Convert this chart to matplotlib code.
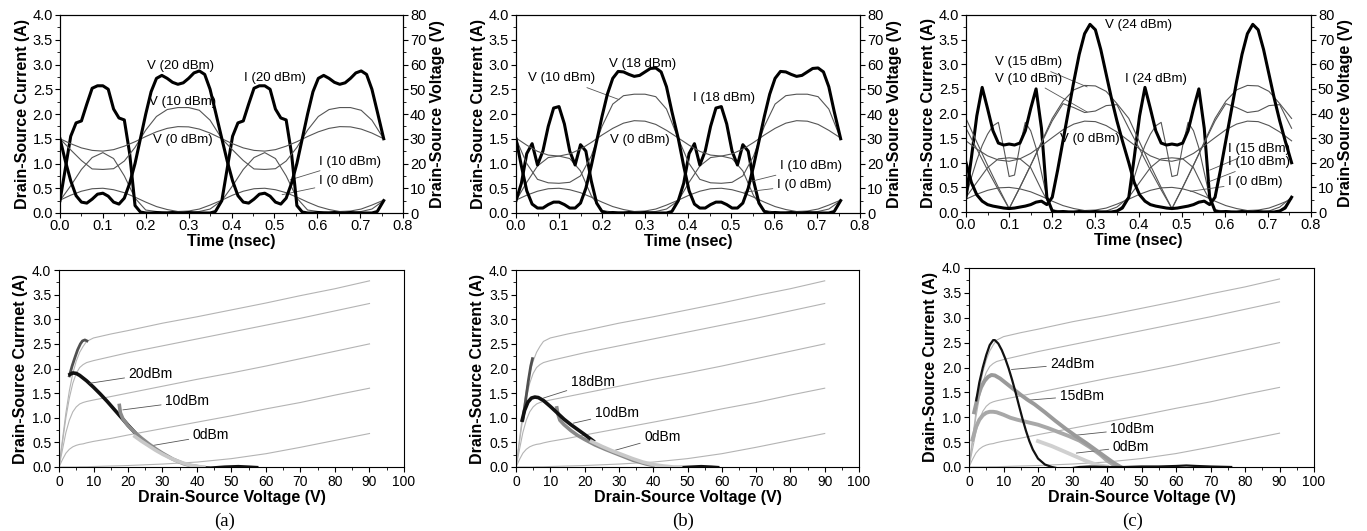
import matplotlib
matplotlib.use('Agg')
import matplotlib.pyplot as plt
from matplotlib.ticker import MultipleLocator, FormatStrFormatter

plt.rcParams['font.family'] = ['Liberation Sans', 'DejaVu Sans']

# ---------------- time grids (ns) ----------------
t_fine = [0, 0.0125, 0.025, 0.0375, 0.05, 0.0625, 0.075, 0.0875, 0.1, 0.1125, 0.125, 0.1375, 0.15, 0.1625,
          0.175, 0.1875, 0.2, 0.2125, 0.225, 0.2375, 0.25, 0.2625, 0.275, 0.2875, 0.3, 0.3125, 0.325, 0.3375,
          0.35, 0.3625,
          0.3775, 0.39, 0.4025, 0.415, 0.4275, 0.44, 0.4525, 0.465, 0.4775, 0.49, 0.5025, 0.515, 0.5275, 0.54,
          0.5525, 0.565, 0.5775, 0.59, 0.6025, 0.615, 0.6275, 0.64, 0.6525, 0.665, 0.6775, 0.69, 0.7025, 0.715,
          0.7275, 0.74, 0.755]
t_coarse = [0, 0.025, 0.05, 0.075, 0.1, 0.125, 0.15, 0.175, 0.2, 0.225, 0.25, 0.275, 0.3, 0.325, 0.35,
            0.3775, 0.4025, 0.4275, 0.4525, 0.4775, 0.5025, 0.5275, 0.5525, 0.5775, 0.6025, 0.6275, 0.6525,
            0.6775, 0.7025, 0.7275, 0.755]

# ---------------- panel (a) waveforms ----------------
a_i20 = [0.25, 0.9, 1.55, 1.82, 1.86, 2.2, 2.52, 2.57, 2.57, 2.5, 2.1, 1.92, 1.88, 1.2, 0.15, 0.02, 0.0, 0.0,
         0.01, 0.0, 0.0, 0.01, 0.0, 0.0, 0.01, 0.0, 0.0, 0.0, 0.0, 0.03,
         0.25, 0.9, 1.55, 1.82, 1.86, 2.2, 2.52, 2.57, 2.57, 2.5, 2.1, 1.92, 1.88, 1.2, 0.15, 0.02, 0.0, 0.0,
         0.01, 0.0, 0.0, 0.01, 0.0, 0.0, 0.01, 0.0, 0.0, 0.0, 0.0, 0.03, 0.25]
a_v20 = [30, 21, 13, 7, 4.4, 4, 5.6, 7.6, 8, 6.8, 4.4, 3.6, 6, 12, 20, 30, 40, 49, 54.4, 55.6, 54.4, 52.8,
         52, 52.6, 54.4, 56.6, 57.4, 56, 50, 41,
         30, 21, 13, 7, 4.4, 4, 5.6, 7.6, 8, 6.8, 4.4, 3.6, 6, 12, 20, 30, 40, 49, 54.4, 55.6, 54.4, 52.8,
         52, 52.6, 54.4, 56.6, 57.4, 56, 50, 41, 30]
a_v10 = [30, 25.5, 21.2, 17.8, 17.6, 17.9, 21.0, 26.5, 33.5, 39.0, 41.8, 42.6, 42.6, 41.5, 37.5,
         30, 25.5, 21.2, 17.8, 17.6, 17.9, 21.0, 26.5, 33.5, 39.0, 41.8, 42.6, 42.6, 41.5, 37.5, 30]
a_v0 = [30.0, 28.0, 26.3, 25.3, 25.0, 25.6, 27.0, 28.8, 30.9, 32.8, 34.2, 34.9, 34.8, 33.9, 32.3,
        30.0, 28.0, 26.3, 25.3, 25.0, 25.6, 27.0, 28.8, 30.9, 32.8, 34.2, 34.9, 34.8, 33.9, 32.3, 30.0]
a_i10 = [0.25, 0.55, 0.88, 1.12, 1.22, 1.1, 0.75, 0.3, 0.06, 0.03, 0.02, 0.02, 0.02, 0.03, 0.08,
         0.25, 0.55, 0.88, 1.12, 1.22, 1.1, 0.75, 0.3, 0.06, 0.03, 0.02, 0.02, 0.02, 0.03, 0.08, 0.25]
a_i0 = [0.26, 0.36, 0.44, 0.49, 0.5, 0.47, 0.41, 0.32, 0.22, 0.13, 0.07, 0.03, 0.04, 0.08, 0.16,
        0.26, 0.36, 0.44, 0.49, 0.5, 0.47, 0.41, 0.32, 0.22, 0.13, 0.07, 0.03, 0.04, 0.08, 0.16, 0.26]

# ---------------- panel (b) waveforms ----------------
b_i18 = [0.25, 0.6, 1.2, 1.4, 0.97, 1.25, 1.75, 2.12, 2.15, 1.8, 1.25, 0.97, 1.38, 1.25, 0.65, 0.2, 0.03, 0.0,
         0.01, 0.0, 0.0, 0.01, 0.0, 0.0, 0.01, 0.0, 0.0, 0.0, 0.0, 0.03,
         0.25, 0.6, 1.2, 1.4, 0.97, 1.25, 1.75, 2.12, 2.15, 1.8, 1.25, 0.97, 1.38, 1.25, 0.65, 0.2, 0.03, 0.0,
         0.01, 0.0, 0.0, 0.01, 0.0, 0.0, 0.01, 0.0, 0.0, 0.0, 0.0, 0.03, 0.25]
b_v18 = [30, 19, 9, 3.6, 2, 2, 3.4, 4.4, 4.4, 3.4, 2, 2, 4, 10, 19, 29, 39, 48, 54.4, 57.2, 57, 56, 55.2, 55.6,
         57, 58.4, 58.6, 57, 51, 41,
         30, 19, 9, 3.6, 2, 2, 3.4, 4.4, 4.4, 3.4, 2, 2, 4, 10, 19, 29, 39, 48, 54.4, 57.2, 57, 56, 55.2, 55.6,
         57, 58.4, 58.6, 57, 51, 41, 30]
b_v10 = [30, 20, 13.6, 12.2, 12, 12.4, 15, 23, 35, 44, 47.4, 48, 48, 47, 42,
         30, 20, 13.6, 12.2, 12, 12.4, 15, 23, 35, 44, 47.4, 48, 48, 47, 42, 30]
b_v0 = [30.3, 27.4, 24.9, 23.4, 23.0, 23.9, 25.8, 28.5, 31.5, 34.2, 36.3, 37.3, 37.1, 35.8, 33.4,
        30.3, 27.4, 24.9, 23.4, 23.0, 23.9, 25.8, 28.5, 31.5, 34.2, 36.3, 37.3, 37.1, 35.8, 33.4, 30.3]
b_i10 = [0.25, 0.62, 0.95, 1.12, 1.15, 1.1, 0.85, 0.35, 0.05, 0.02, 0.02, 0.02, 0.02, 0.03, 0.08,
         0.25, 0.62, 0.95, 1.12, 1.15, 1.1, 0.85, 0.35, 0.05, 0.02, 0.02, 0.02, 0.02, 0.03, 0.08, 0.25]
b_i0 = [0.26, 0.36, 0.44, 0.49, 0.5, 0.47, 0.41, 0.32, 0.22, 0.13, 0.07, 0.03, 0.04, 0.08, 0.16,
        0.26, 0.36, 0.44, 0.49, 0.5, 0.47, 0.41, 0.32, 0.22, 0.13, 0.07, 0.03, 0.04, 0.08, 0.16, 0.26]

# ---------------- panel (c) waveforms ----------------
c_i24 = [0.3, 1.1, 1.95, 2.53, 2.1, 1.65, 1.4, 1.36, 1.38, 1.36, 1.4, 1.65, 2.1, 2.5, 1.7, 0.3, 0.02, 0.0,
         0.01, 0.0, 0.0, 0.01, 0.0, 0.0, 0.01, 0.0, 0.0, 0.0, 0.02, 0.08,
         0.3, 1.1, 1.95, 2.53, 2.1, 1.65, 1.4, 1.36, 1.38, 1.36, 1.4, 1.65, 2.1, 2.5, 1.7, 0.3, 0.02, 0.0,
         0.01, 0.0, 0.0, 0.01, 0.0, 0.0, 0.01, 0.0, 0.0, 0.0, 0.02, 0.08, 0.3]
c_v24 = [20, 12, 7, 4.4, 3, 2.4, 2, 1.6, 1.4, 1.6, 2, 2.4, 3, 4, 4.4, 3, 6, 17, 29, 41, 53, 64, 72.4, 76.2,
         74, 66, 56, 46, 37, 29,
         20, 12, 7, 4.4, 3, 2.4, 2, 1.6, 1.4, 1.6, 2, 2.4, 3, 4, 4.4, 3, 6, 17, 29, 41, 53, 64, 72.4, 76.2,
         74, 66, 56, 46, 37, 29, 20]
c_i15 = [0.3, 0.7, 1.05, 1.35, 1.58, 1.75, 1.82, 1.3, 0.72, 0.75, 1.35, 1.82, 1.65, 1.3, 0.8, 0.3, 0.05, 0.01,
         0.0, 0.0, 0.0, 0.0, 0.0, 0.0, 0.0, 0.0, 0.0, 0.01, 0.03, 0.12,
         0.3, 0.7, 1.05, 1.35, 1.58, 1.75, 1.82, 1.3, 0.72, 0.75, 1.35, 1.82, 1.65, 1.3, 0.8, 0.3, 0.05, 0.01,
         0.0, 0.0, 0.0, 0.0, 0.0, 0.0, 0.0, 0.0, 0.0, 0.01, 0.03, 0.12, 0.3]
c_v15 = [38, 28.4, 19, 10, 1.4, 10, 19, 28.4, 38, 45, 49.6, 51.4, 51.2, 49, 44,
         38, 28.4, 19, 10, 1.4, 10, 19, 28.4, 38, 45, 49.6, 51.4, 51.2, 49, 44, 38]
c_v10 = [34, 25.6, 17, 9, 1.4, 10, 19, 28, 37, 44, 42.4, 40.4, 41, 43.2, 43.6,
         34, 25.6, 17, 9, 1.4, 10, 19, 28, 37, 44, 42.4, 40.4, 41, 43.2, 43.6, 34]
c_v0 = [28.9, 25.6, 22.8, 21.1, 20.6, 21.6, 23.8, 26.9, 30.2, 33.4, 35.7, 36.9, 36.7, 35.1, 32.5,
        28.9, 25.6, 22.8, 21.1, 20.6, 21.6, 23.8, 26.9, 30.2, 33.4, 35.7, 36.9, 36.7, 35.1, 32.5, 28.9]
c_i10 = [0.3, 0.6, 0.9, 1.08, 1.1, 1.08, 0.9, 0.45, 0.04, 0.02, 0.01, 0.01, 0.01, 0.02, 0.1,
         0.3, 0.6, 0.9, 1.08, 1.1, 1.08, 0.9, 0.45, 0.04, 0.02, 0.01, 0.01, 0.01, 0.02, 0.1, 0.3]
c_i0 = [0.26, 0.36, 0.44, 0.49, 0.5, 0.47, 0.41, 0.32, 0.22, 0.13, 0.07, 0.03, 0.04, 0.08, 0.16,
        0.26, 0.36, 0.44, 0.49, 0.5, 0.47, 0.41, 0.32, 0.22, 0.13, 0.07, 0.03, 0.04, 0.08, 0.16, 0.26]

# ---------------- DC I-V curves (bottom panels) ----------------
iv_v = [0, 1, 2, 3, 4, 5, 6, 7, 8, 10, 15, 20, 30, 40, 50, 60, 70, 80, 90]
iv_1 = [0, 0.55, 1.1, 1.55, 1.9, 2.15, 2.33, 2.45, 2.55, 2.62, 2.7, 2.77, 2.92, 3.05, 3.19, 3.33, 3.48, 3.62, 3.78]
iv_2 = [0, 0.5, 1.0, 1.4, 1.7, 1.9, 2.02, 2.08, 2.12, 2.16, 2.24, 2.32, 2.46, 2.6, 2.74, 2.88, 3.02, 3.17, 3.32]
iv_3 = [0, 0.35, 0.7, 0.95, 1.12, 1.22, 1.28, 1.31, 1.33, 1.36, 1.43, 1.5, 1.64, 1.78, 1.91, 2.05, 2.2, 2.35, 2.5]
iv_4 = [0, 0.15, 0.28, 0.36, 0.41, 0.44, 0.46, 0.47, 0.49, 0.52, 0.58, 0.65, 0.78, 0.91, 1.04, 1.18, 1.31, 1.46, 1.6]
iv_5 = [0, 0.0, 0.0, 0.0, 0.0, 0.0, 0.005, 0.005, 0.005, 0.01, 0.02, 0.03, 0.06, 0.1, 0.17, 0.27, 0.4, 0.54, 0.68]

# ---------------- load lines (a) ----------------
a_l20_v = [3.2, 4, 5, 6, 8, 10, 12, 14, 16, 18, 20, 22]
a_l20_i = [1.88, 1.91, 1.9, 1.86, 1.75, 1.62, 1.48, 1.33, 1.17, 1.01, 0.85, 0.7]
a_hook_v = [3.0, 3.8, 4.6, 5.4, 6.2, 6.8, 7.5, 8.1]
a_hook_i = [1.85, 2.05, 2.22, 2.38, 2.5, 2.56, 2.58, 2.56]
a_l10_v = [17.5, 17.8, 18.5, 20, 22, 24, 26, 28, 30, 33, 36, 38, 40]
a_l10_i = [1.25, 1.1, 0.98, 0.84, 0.7, 0.58, 0.47, 0.37, 0.28, 0.16, 0.07, 0.03, 0.01]
a_l0_v = [22, 24, 26, 28, 30, 32, 34, 36, 38, 40, 42]
a_l0_i = [0.62, 0.52, 0.43, 0.34, 0.26, 0.19, 0.13, 0.08, 0.04, 0.01, 0.0]
a_tail_v = [40, 44, 48, 52, 55, 57.5]
a_tail_i = [0.0, -0.01, 0.01, 0.02, 0.01, 0.0]

# ---------------- load lines (b) ----------------
b_l18_v = [1.8, 2.5, 3.5, 4.5, 5.5, 6.5, 8, 10, 12, 14, 16, 18, 20, 22.5]
b_l18_i = [0.95, 1.15, 1.32, 1.4, 1.42, 1.41, 1.35, 1.23, 1.1, 0.97, 0.86, 0.76, 0.66, 0.53]
b_hook_v = [2.0, 2.8, 3.6, 4.3, 4.8]
b_hook_i = [0.95, 1.35, 1.75, 2.05, 2.2]
b_l10_v = [11.9, 12.2, 12.8, 14, 16, 18, 20, 23, 26, 30, 34, 38, 40]
b_l10_i = [1.2, 1.08, 0.95, 0.86, 0.74, 0.64, 0.56, 0.45, 0.36, 0.25, 0.14, 0.06, 0.03]
b_l0_v = [22, 25, 28, 31, 34, 37, 40, 43, 46, 48]
b_l0_i = [0.52, 0.42, 0.33, 0.25, 0.17, 0.1, 0.05, 0.02, 0.0, 0.0]
b_tail_v = [48, 51, 54, 57, 59]
b_tail_i = [0.0, 0.01, 0.02, 0.01, 0.0]

# ---------------- load lines (c) ----------------
c_l24_v = [2.1, 3, 4, 5, 6, 7, 7.5, 8.5, 9.5, 10.5, 11.5, 12.5, 13.5, 14.5, 15.5, 16.5, 17.5, 18.5, 20, 22,
           24, 26, 28, 30, 32, 35, 40, 45, 50, 55, 60, 63, 66, 70, 76]
c_l24_i = [1.34, 1.7, 2.0, 2.25, 2.45, 2.55, 2.55, 2.48, 2.35, 2.18, 1.98, 1.75, 1.5, 1.23, 0.97, 0.73, 0.52,
           0.35, 0.17, 0.05, 0.0, -0.03, -0.03, -0.02, 0.0, 0.01, 0.0, 0.0, 0.01, 0.01, 0.02, 0.03, 0.02, 0.01, 0.0]
c_l15_v = [1.5, 2.5, 3.5, 4.5, 5.5, 6.5, 7.5, 9, 11, 13, 15, 17, 19, 22, 25, 28, 31, 34, 37, 40, 42, 44]
c_l15_i = [1.1, 1.4, 1.6, 1.73, 1.81, 1.85, 1.84, 1.78, 1.67, 1.56, 1.45, 1.35, 1.26, 1.1, 0.93, 0.77, 0.62,
           0.48, 0.33, 0.18, 0.08, 0.0]
c_l10_v = [1.0, 2, 3, 4, 5, 6, 7, 8, 10, 12, 14, 17, 20, 23, 26, 29, 32, 35, 38, 40, 42, 43]
c_l10_i = [0.55, 0.8, 0.95, 1.04, 1.09, 1.11, 1.11, 1.1, 1.05, 0.99, 0.95, 0.9, 0.85, 0.78, 0.7, 0.62, 0.53,
           0.4, 0.25, 0.13, 0.04, 0.0]
c_l0_v = [20, 22, 24, 26, 28, 30, 32, 34, 36, 38, 40]
c_l0_i = [0.52, 0.47, 0.42, 0.36, 0.3, 0.24, 0.18, 0.12, 0.07, 0.03, 0.01]

# ====================================================================
W, H = 1367, 531
fig = plt.figure(figsize=(W / 100, H / 100), dpi=100)


def add_ax(l, r, t, b):
    return fig.add_axes([l / W, 1 - b / H, (r - l) / W, (b - t) / H])


THIN = '#555555'
THICK = 2.2
TXT = 9.5
TICK = 10.5
LAB = dict(fontsize=11.5, fontweight='bold')
LEAD = dict(arrowstyle='-', lw=0.6, color='#555555', shrinkA=1, shrinkB=0)


def style_top(ax, ax2):
    ax.set_xlim(0, 0.8)
    ax.set_ylim(0, 4)
    ax2.set_ylim(0, 80)
    ax.xaxis.set_major_locator(MultipleLocator(0.1))
    ax.xaxis.set_minor_locator(MultipleLocator(0.05))
    ax.xaxis.set_major_formatter(FormatStrFormatter('%.1f'))
    ax.yaxis.set_major_locator(MultipleLocator(0.5))
    ax.yaxis.set_minor_locator(MultipleLocator(0.25))
    ax.yaxis.set_major_formatter(FormatStrFormatter('%.1f'))
    ax2.yaxis.set_major_locator(MultipleLocator(10))
    ax2.yaxis.set_minor_locator(MultipleLocator(5))
    for a in (ax, ax2):
        a.tick_params(which='major', direction='out', length=3.5, width=0.8, labelsize=TICK, pad=1.5)
        a.tick_params(which='minor', direction='out', length=2, width=0.6)
    ax.tick_params(axis='x', which='major', pad=1)
    ax.set_xlabel('Time (nsec)', labelpad=0.5, **LAB)
    ax.set_ylabel('Drain-Source Current (A)', labelpad=2, **LAB)
    ax2.set_ylabel('Drain-Source Voltage (V)', labelpad=3, **LAB)


def style_bottom(ax, ylabel):
    ax.set_xlim(0, 100)
    ax.set_ylim(0, 4)
    ax.xaxis.set_major_locator(MultipleLocator(10))
    ax.xaxis.set_minor_locator(MultipleLocator(5))
    ax.yaxis.set_major_locator(MultipleLocator(0.5))
    ax.yaxis.set_minor_locator(MultipleLocator(0.25))
    ax.yaxis.set_major_formatter(FormatStrFormatter('%.1f'))
    ax.tick_params(which='major', direction='out', length=3.5, width=0.8, labelsize=10, pad=2)
    ax.tick_params(which='minor', direction='out', length=2, width=0.6)
    ax.set_xlabel('Drain-Source Voltage (V)', labelpad=1, **LAB)
    ax.set_ylabel(ylabel, labelpad=3, **LAB)
    for c in (iv_1, iv_2, iv_3, iv_4, iv_5):
        ax.plot(iv_v, c, color='#b4b4b4', lw=0.8, zorder=1)


# ---------------- top (a) ----------------
ax = add_ax(60, 403, 15, 213)
ax2 = ax.twinx()
ax.plot(t_coarse, a_i0, color=THIN, lw=0.8)
ax.plot(t_coarse, a_i10, color=THIN, lw=0.8)
ax2.plot(t_coarse, a_v0, color=THIN, lw=0.8)
ax2.plot(t_coarse, a_v10, color=THIN, lw=0.8)
ax2.plot(t_fine, a_v20, color='black', lw=THICK)
ax.plot(t_fine, a_i20, color='black', lw=THICK, zorder=5)
style_top(ax, ax2)
ax.text(0.282, 2.96, 'V (20 dBm)', fontsize=TXT, ha='center', va='center')
ax.text(0.286, 2.25, 'V (10 dBm)', fontsize=TXT, ha='center', va='center')
ax.text(0.287, 1.48, 'V (0 dBm)', fontsize=TXT, ha='center', va='center')
ax.text(0.502, 2.72, 'I (20 dBm)', fontsize=TXT, ha='center', va='center')
ax.annotate('I (10 dBm)', xy=(0.537, 0.67), xytext=(0.604, 1.04), fontsize=TXT, ha='left', va='center',
            arrowprops=LEAD)
ax.annotate('I (0 dBm)', xy=(0.518, 0.37), xytext=(0.604, 0.64), fontsize=TXT, ha='left', va='center',
            arrowprops=LEAD)

# ---------------- top (b) ----------------
ax = add_ax(516, 860, 15, 213)
ax2 = ax.twinx()
ax.plot(t_coarse, b_i0, color=THIN, lw=0.8)
ax.plot(t_coarse, b_i10, color=THIN, lw=0.8)
ax2.plot(t_coarse, b_v0, color=THIN, lw=0.8)
ax2.plot(t_coarse, b_v10, color=THIN, lw=0.8)
ax2.plot(t_fine, b_v18, color='black', lw=THICK)
ax.plot(t_fine, b_i18, color='black', lw=THICK)
style_top(ax, ax2)
ax.text(0.295, 3.01, 'V (18 dBm)', fontsize=TXT, ha='center', va='center')
ax.annotate('V (10 dBm)', xy=(0.24, 2.29), xytext=(0.107, 2.72), fontsize=TXT, ha='center', va='center',
            arrowprops=LEAD)
ax.text(0.287, 1.48, 'V (0 dBm)', fontsize=TXT, ha='center', va='center')
ax.text(0.483, 2.32, 'I (18 dBm)', fontsize=TXT, ha='center', va='center')
ax.annotate('I (10 dBm)', xy=(0.538, 0.62), xytext=(0.614, 0.94), fontsize=TXT, ha='left', va='center',
            arrowprops=LEAD)
ax.annotate('I (0 dBm)', xy=(0.53, 0.42), xytext=(0.607, 0.57), fontsize=TXT, ha='left', va='center',
            arrowprops=LEAD)

# ---------------- top (c) ----------------
ax = add_ax(966, 1311, 15, 212)
ax2 = ax.twinx()
ax.plot(t_coarse, c_i0, color=THIN, lw=0.8)
ax.plot(t_coarse, c_i10, color=THIN, lw=0.8)
ax.plot(t_fine, c_i15, color=THIN, lw=0.8)
ax2.plot(t_coarse, c_v0, color=THIN, lw=0.8)
ax2.plot(t_coarse, c_v10, color=THIN, lw=0.8)
ax2.plot(t_coarse, c_v15, color=THIN, lw=0.8)
ax2.plot(t_fine, c_v24, color='black', lw=THICK)
ax.plot(t_fine, c_i24, color='black', lw=THICK)
style_top(ax, ax2)
ax.text(0.322, 3.8, 'V (24 dBm)', fontsize=TXT, ha='left', va='center')
ax.annotate('V (15 dBm)', xy=(0.281, 2.54), xytext=(0.145, 3.04), fontsize=TXT, ha='center', va='center',
            arrowprops=LEAD)
ax.annotate('V (10 dBm)', xy=(0.281, 2.03), xytext=(0.145, 2.71), fontsize=TXT, ha='center', va='center',
            arrowprops=LEAD)
ax.text(0.288, 1.49, 'V (0 dBm)', fontsize=TXT, ha='center', va='center')
ax.text(0.44, 2.71, 'I (24 dBm)', fontsize=TXT, ha='center', va='center')
ax.annotate('I (15 dBm)', xy=(0.565, 0.85), xytext=(0.608, 1.27), fontsize=TXT, ha='left', va='center',
            arrowprops=LEAD)
ax.annotate('I (10 dBm)', xy=(0.565, 0.62), xytext=(0.608, 1.01), fontsize=TXT, ha='left', va='center',
            arrowprops=LEAD)
ax.annotate('I (0 dBm)', xy=(0.52, 0.42), xytext=(0.608, 0.61), fontsize=TXT, ha='left', va='center',
            arrowprops=LEAD)

# ---------------- bottom (a) ----------------
ax = add_ax(59, 404, 270, 467)
style_bottom(ax, 'Drain-Source Currnet (A)')
ax.plot(a_hook_v, a_hook_i, color='#505050', lw=2.0, zorder=3)
ax.plot(a_l20_v, a_l20_i, color='#111111', lw=2.6, zorder=3)
ax.plot(a_tail_v, a_tail_i, color='#111111', lw=1.6, zorder=3)
ax.plot(a_l10_v, a_l10_i, color='#8a8a8a', lw=2.6, zorder=4)
ax.plot(a_l0_v, a_l0_i, color='#c8c8c8', lw=2.6, zorder=5)
ax.annotate('20dBm', xy=(8.9, 1.70), xytext=(20.2, 1.89), fontsize=10, ha='left', va='center', arrowprops=LEAD)
ax.annotate('10dBm', xy=(18.5, 1.16), xytext=(30.8, 1.33), fontsize=10, ha='left', va='center', arrowprops=LEAD)
ax.annotate('0dBm', xy=(25.8, 0.42), xytext=(38.8, 0.64), fontsize=10, ha='left', va='center', arrowprops=LEAD)

# ---------------- bottom (b) ----------------
ax = add_ax(516, 859, 270, 467)
style_bottom(ax, 'Drain-Source Current (A)')
ax.plot(b_hook_v, b_hook_i, color='#505050', lw=2.0, zorder=3)
ax.plot(b_l10_v, b_l10_i, color='#8a8a8a', lw=2.6, zorder=3)
ax.plot(b_l18_v, b_l18_i, color='#111111', lw=2.6, zorder=4)
ax.plot(b_tail_v, b_tail_i, color='#111111', lw=1.6, zorder=3)
ax.plot(b_l0_v, b_l0_i, color='#c8c8c8', lw=2.6, zorder=5)
ax.annotate('18dBm', xy=(8.0, 1.40), xytext=(16.0, 1.72), fontsize=10, ha='left', va='center', arrowprops=LEAD)
ax.annotate('10dBm', xy=(16.7, 0.89), xytext=(23.0, 1.09), fontsize=10, ha='left', va='center', arrowprops=LEAD)
ax.annotate('0dBm', xy=(27.9, 0.32), xytext=(37.4, 0.61), fontsize=10, ha='left', va='center', arrowprops=LEAD)

# ---------------- bottom (c) ----------------
ax = add_ax(969, 1314, 268, 467)
style_bottom(ax, 'Drain-Source Current (A)')
ax.plot(c_l0_v, c_l0_i, color='#d0d0d0', lw=2.8, zorder=3)
ax.plot(c_l10_v, c_l10_i, color='#a8a8a8', lw=2.8, zorder=3)
ax.plot(c_l15_v, c_l15_i, color='#9a9a9a', lw=2.8, zorder=4)
ax.plot(c_l24_v, c_l24_i, color='#111111', lw=1.6, zorder=5)
ax.annotate('24dBm', xy=(12.3, 1.96), xytext=(23.6, 2.07), fontsize=10, ha='left', va='center', arrowprops=LEAD)
ax.annotate('15dBm', xy=(16.6, 1.34), xytext=(26.3, 1.43), fontsize=10, ha='left', va='center', arrowprops=LEAD)
ax.annotate('10dBm', xy=(31.1, 0.64), xytext=(41.0, 0.76), fontsize=10, ha='left', va='center', arrowprops=LEAD)
ax.annotate('0dBm', xy=(31.1, 0.28), xytext=(41.7, 0.41), fontsize=10, ha='left', va='center', arrowprops=LEAD)

# ---------------- panel captions ----------------
for x, s in ((225, '(a)'), (683, '(b)'), (1133, '(c)')):
    fig.text(x / W, 1 - 521 / H, s, family=['Liberation Serif', 'DejaVu Serif'], fontsize=13.5,
             ha='center', va='center')

fig.savefig('out.png', dpi=100)
